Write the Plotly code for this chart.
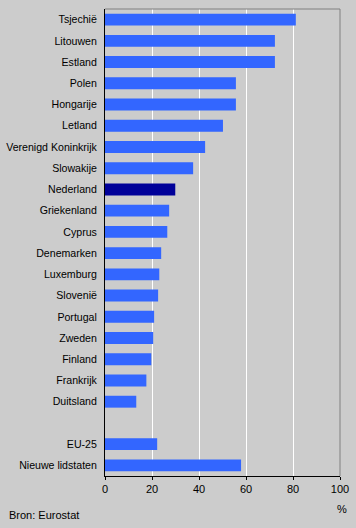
import plotly.graph_objects as go

categories = ["Tsjechië", "Litouwen", "Estland", "Polen", "Hongarije", "Letland",
              "Verenigd Koninkrijk", "Slowakije", "Nederland", "Griekenland", "Cyprus",
              "Denemarken", "Luxemburg", "Slovenië", "Portugal", "Zweden", "Finland",
              "Frankrijk", "Duitsland", " ", "EU-25", "Nieuwe lidstaten"]
values = [81.2, 72.3, 72.3, 55.7, 55.7, 50.2, 42.6, 37.5, 29.9, 27.3, 26.5,
          23.9, 23.1, 22.6, 20.9, 20.5, 19.7, 17.6, 13.3, None, 22.2, 57.9]
highlight = "Nederland"
tick_vals = [0, 20, 40, 60, 80, 100]

BLUE = "#3366FF"
DARK = "#000099"
colors = [DARK if c == highlight else BLUE for c in categories]

fig = go.Figure(go.Bar(
    x=values, y=categories, orientation="h",
    marker=dict(color=colors, line=dict(width=0)),
    width=0.56, hoverinfo="x+y",
))

FONT = "Liberation Sans, Arial, sans-serif"
fig.update_layout(
    width=356, height=528,
    margin=dict(l=104.5, r=15.7, t=9.3, b=52, autoexpand=False),
    paper_bgcolor="#CCCCCC", plot_bgcolor="#CCCCCC",
    font=dict(family=FONT, size=11, color="#000000"),
    showlegend=False,
    xaxis=dict(range=[0, 100], tickvals=tick_vals, showgrid=True, gridcolor="#FFFFFF",
               gridwidth=1, zeroline=False, showline=True, linecolor="#000000",
               linewidth=1, ticks="outside", ticklen=3, tickcolor="#000000",
               tickfont=dict(size=11), automargin=False),
    yaxis=dict(type="category", categoryorder="array", categoryarray=categories,
               autorange="reversed", showgrid=False, zeroline=False, showline=True,
               linecolor="#000000", linewidth=1, ticks="", ticklabelstandoff=5,
               tickfont=dict(size=10.6), automargin=False),
    shapes=[
        dict(type="line", xref="paper", yref="paper", x0=0, x1=1, y0=1, y1=1,
             line=dict(color="#808080", width=1), layer="above"),
        dict(type="line", xref="paper", yref="paper", x0=1, x1=1, y0=0, y1=1,
             line=dict(color="#808080", width=1), layer="above"),
    ],
    annotations=[
        dict(text="%", xref="x", x=100, yref="paper", y=-0.0707, xanchor="center",
             yanchor="middle", showarrow=False, xshift=2, font=dict(size=11)),
        dict(text="Bron: Eurostat", xref="paper", x=-0.418, yref="paper", y=-0.0835,
             xanchor="left", yanchor="middle", showarrow=False, font=dict(size=11)),
    ],
)

fig.write_html("out.html", config={"displayModeBar": False},
               post_script="document.body.style.margin='0';document.body.style.overflow='hidden';")
